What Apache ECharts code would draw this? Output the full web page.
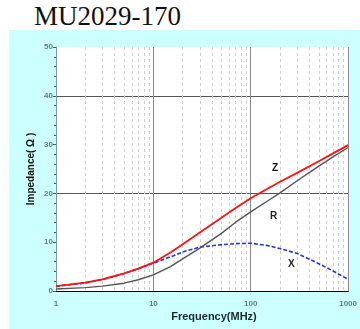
<!DOCTYPE html>
<html>
<head>
<meta charset="utf-8">
<script src="https://cdn.jsdelivr.net/npm/echarts@6/dist/echarts.min.js"></script>
<style>
html,body{margin:0;padding:0;background:#fff;}
#title{position:absolute;left:34px;top:1px;font-family:"Liberation Serif","DejaVu Serif",serif;font-size:27px;color:#111;}
#wrap{position:absolute;left:9px;top:30px;width:351px;height:299px;background:#ccffff;}
#chart{position:absolute;left:0;top:0;width:360px;height:329px;}
</style>
</head>
<body>
<div id="title">MU2029-170</div>
<div id="wrap"></div>
<div id="chart"></div>
<script>
const freqs = [1, 2, 3, 5, 7, 10, 15, 20, 30, 50, 70, 100, 150, 200, 300, 500, 700, 1000];
const zVals = [1.0, 1.7, 2.4, 3.6, 4.6, 5.8, 7.9, 9.6, 12.0, 15.0, 17.0, 19.0, 21.0, 22.4, 24.2, 26.6, 28.2, 29.9];
const rVals = [0.4, 0.7, 1.0, 1.6, 2.3, 3.3, 5.0, 6.6, 8.8, 11.8, 14.1, 16.2, 18.5, 20.1, 22.6, 25.6, 27.5, 29.4];
const xVals = [0.95, 1.65, 2.35, 3.55, 4.55, 5.7, 7.0, 8.0, 9.0, 9.5, 9.7, 9.8, 9.3, 8.7, 7.7, 5.6, 4.1, 2.4];
const yTicks = [0, 10, 20, 30, 40, 50];
const xTicks = [1, 10, 100, 1000];
const seriesNames = ['Z', 'R', 'X'];

const chart = echarts.init(document.getElementById('chart'), null, {renderer: 'canvas'});
const pairs = v => freqs.map((f, i) => [f, v[i]]);
const labelStyle = {color: '#5f7f7f', fontSize: 8, fontWeight: 'bold', fontFamily: 'Liberation Sans, Arial, sans-serif'};
chart.setOption({
  animation: false,
  backgroundColor: 'transparent',
  grid: {left: 56, right: 9, top: 47, bottom: 38, show: true, backgroundColor: '#fff', borderWidth: 0},
  xAxis: [{
    type: 'log', logBase: 10, min: xTicks[0], max: xTicks[xTicks.length - 1],
    axisLine: {show: true, onZero: false, lineStyle: {color: '#000', width: 1}},
    axisTick: {show: false},
    axisLabel: Object.assign({margin: 9, showMaxLabel: true, formatter: v => String(Math.round(v))}, labelStyle),
    splitLine: {show: true, lineStyle: {color: '#8a8a8a', width: 1}},
    minorTick: {show: false, splitNumber: 9},
    minorSplitLine: {show: true, lineStyle: {color: '#cccccc', type: [3, 3], width: 1}}
  }, {
    type: 'log', logBase: 10, min: 1, max: 1000, position: 'top',
    axisLine: {show: true, lineStyle: {color: '#000', width: 1}},
    axisTick: {show: false}, axisLabel: {show: false}, splitLine: {show: false}
  }],
  yAxis: {
    type: 'value', min: yTicks[0], max: yTicks[yTicks.length - 1], interval: 10,
    axisLine: {show: true, lineStyle: {color: '#7a9a9a', width: 1}},
    axisTick: {show: true, length: 3, lineStyle: {color: '#555'}},
    minorTick: {show: true, splitNumber: 5, length: 2, lineStyle: {color: '#555'}},
    axisLabel: Object.assign({margin: 3}, labelStyle),
    splitLine: {show: true, lineStyle: {color: ['#000', 'transparent', '#555', 'transparent', '#555', 'transparent'], width: 1}}
  },
  series: [{
    name: seriesNames[2], type: 'line', data: pairs(xVals), showSymbol: false, smooth: false, z: 2,
    lineStyle: {color: '#2233ee', width: 1.6, type: [4, 2]}
  }, {
    name: seriesNames[1], type: 'line', data: pairs(rVals), showSymbol: false, smooth: false, z: 3,
    lineStyle: {color: '#555', width: 1.4}
  }, {
    name: seriesNames[0], type: 'line', data: pairs(zVals), showSymbol: false, smooth: false, z: 4,
    lineStyle: {color: '#ff1111', width: 1.8}
  }],
  graphic: [
    {type: 'text', left: 272, top: 163, style: {text: seriesNames[0], font: 'bold 10px Liberation Sans, Arial', fill: '#111'}},
    {type: 'text', left: 270, top: 211, style: {text: seriesNames[1], font: 'bold 10px Liberation Sans, Arial', fill: '#222'}},
    {type: 'text', left: 288, top: 259, style: {text: seriesNames[2], font: 'bold 10px Liberation Sans, Arial', fill: '#222'}},
    {type: 'text', x: 214, y: 317, style: {text: 'Frequency(MHz)', font: 'bold 11px Liberation Sans, Arial', fill: '#1a2a2a', align: 'center', verticalAlign: 'middle'}},
    {type: 'text', x: 31, y: 169, rotation: Math.PI / 2, style: {text: 'Impedance( Ω )', font: 'bold 10px Liberation Sans, Arial', fill: '#111', align: 'center', verticalAlign: 'middle'}}
  ]
});
</script>
</body>
</html>
